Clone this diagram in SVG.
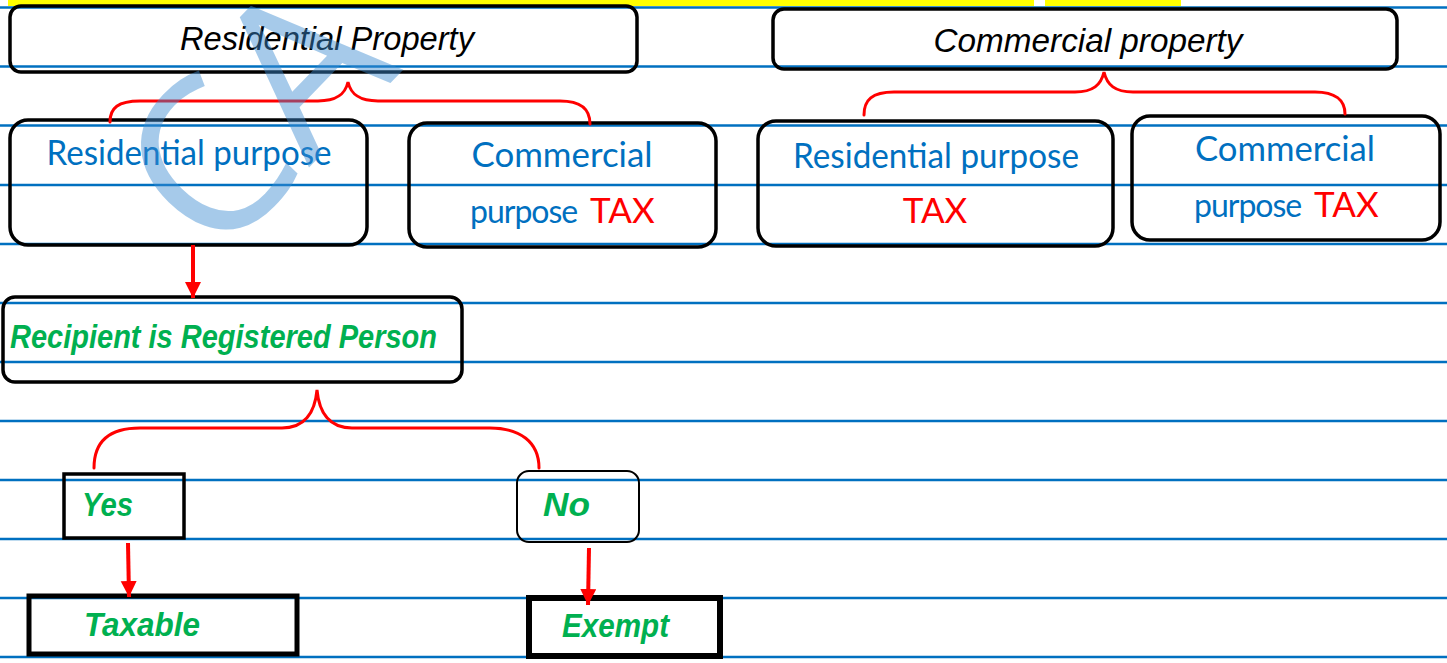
<svg xmlns="http://www.w3.org/2000/svg" width="1447" height="663" viewBox="0 0 1447 663">
  <style>
    .rule { stroke: #0070C0; stroke-width: 2.5; }
    .box { fill: none; stroke: #000; stroke-width: 3.5; }
    .brace { fill: none; stroke: #FF0000; stroke-width: 3; stroke-linecap: round; }
    .arrow { fill: none; stroke: #FF0000; stroke-width: 4; }
    .head { font-family: "Liberation Sans", "DejaVu Sans", sans-serif; font-style: italic; font-size: 33px; fill: #000; }
    .blue { font-family: "Lato", "Noto Sans", sans-serif; font-size: 35px; fill: #0070C0; }
    .small { font-size: 32px; letter-spacing: -1px; }
    .red { fill: #FF0000; }
    .green { font-family: "Liberation Sans", "DejaVu Sans", sans-serif; font-style: italic; font-weight: bold; font-size: 33px; fill: #00B050; }
    .mark { font-family: "Open Sans", "DejaVu Sans", sans-serif; font-weight: 400; font-size: 215px; fill: #3C8CD2; opacity: 0.45; }
  </style>
  <defs>
    <marker id="tip" markerUnits="userSpaceOnUse" markerWidth="18" markerHeight="18" refX="16" refY="8" orient="auto">
      <path d="M0,0 L16,8 L0,16 z" fill="#FF0000"/>
    </marker>
  </defs>

  <rect width="1447" height="663" fill="#fff"/>

  <!-- highlighted heading strip, cut at the top edge -->
  <rect x="8" y="0" width="1026" height="6" fill="#FFFF00"/>
  <rect x="1045" y="0" width="136" height="6" fill="#FFFF00"/>

  <!-- ruled lines -->
  <g id="ruling">
    <line class="rule" x1="0" y1="7.5" x2="1447" y2="7.5"/>
    <line class="rule" x1="0" y1="66.5" x2="1447" y2="66.5"/>
    <line class="rule" x1="0" y1="125.5" x2="1447" y2="125.5"/>
    <line class="rule" x1="0" y1="185" x2="1447" y2="185"/>
    <line class="rule" x1="0" y1="244" x2="1447" y2="244"/>
    <line class="rule" x1="0" y1="303" x2="1447" y2="303"/>
    <line class="rule" x1="0" y1="362" x2="1447" y2="362"/>
    <line class="rule" x1="0" y1="421" x2="1447" y2="421"/>
    <line class="rule" x1="0" y1="480" x2="1447" y2="480"/>
    <line class="rule" x1="0" y1="539" x2="1447" y2="539"/>
    <line class="rule" x1="0" y1="598" x2="1447" y2="598"/>
    <line class="rule" x1="0" y1="657" x2="1447" y2="657"/>
  </g>

  <g id="residential-property">
    <rect class="box" x="10" y="6" width="627" height="66" rx="11"/>
    <text class="head" x="327" y="50" text-anchor="middle" textLength="294" lengthAdjust="spacingAndGlyphs">Residential Property</text>
  </g>

  <g id="commercial-property">
    <rect class="box" x="773" y="9" width="624" height="60" rx="11"/>
    <text class="head" x="1088" y="52" text-anchor="middle" textLength="309" lengthAdjust="spacingAndGlyphs">Commercial property</text>
  </g>

  <g id="res-residential-purpose">
    <rect class="box" x="10" y="120" width="357" height="125" rx="18"/>
    <text class="blue" x="189" y="165" text-anchor="middle" textLength="285" lengthAdjust="spacingAndGlyphs">Residential purpose</text>
  </g>

  <g id="res-commercial-purpose">
    <rect class="box" x="409" y="123" width="307" height="124" rx="18"/>
    <text class="blue" x="562" y="167" text-anchor="middle" textLength="181" lengthAdjust="spacingAndGlyphs">Commercial</text>
    <text class="blue small" x="470" y="223">purpose</text>
    <text class="blue red" x="590" y="223">TAX</text>
  </g>

  <g id="com-residential-purpose">
    <rect class="box" x="758" y="121" width="355" height="125" rx="18"/>
    <text class="blue" x="936" y="168" text-anchor="middle" textLength="286" lengthAdjust="spacingAndGlyphs">Residential purpose</text>
    <text class="blue red" x="935" y="223" text-anchor="middle">TAX</text>
  </g>

  <g id="com-commercial-purpose">
    <rect class="box" x="1132" y="116" width="308" height="124" rx="18"/>
    <text class="blue" x="1285" y="161" text-anchor="middle" textLength="180" lengthAdjust="spacingAndGlyphs">Commercial</text>
    <text class="blue small" x="1194" y="217">purpose</text>
    <text class="blue red" x="1314" y="217">TAX</text>
  </g>

  <g id="recipient-registered">
    <rect class="box" x="3" y="297" width="459" height="85" rx="12"/>
    <text class="green" x="10" y="348" textLength="427" lengthAdjust="spacingAndGlyphs">Recipient is Registered Person</text>
  </g>

  <g id="yes">
    <rect class="box" x="64" y="474" width="120" height="64"/>
    <text class="green" x="82" y="516" textLength="51" lengthAdjust="spacingAndGlyphs">Yes</text>
  </g>

  <g id="no">
    <rect class="box" x="517" y="471" width="122" height="71" rx="12" style="stroke-width:2"/>
    <text class="green" x="543" y="516" textLength="47" lengthAdjust="spacingAndGlyphs">No</text>
  </g>

  <g id="taxable">
    <rect class="box" x="29" y="596" width="268" height="58" style="stroke-width:5"/>
    <text class="green" x="84" y="636" textLength="116" lengthAdjust="spacingAndGlyphs">Taxable</text>
  </g>

  <g id="exempt">
    <rect class="box" x="529" y="598" width="191" height="58" style="stroke-width:6"/>
    <text class="green" x="562" y="637" textLength="107" lengthAdjust="spacingAndGlyphs">Exempt</text>
  </g>

  <g id="connectors">
    <path class="brace" d="M110,122 C110,108 118,101 140,101 L318,101 C336,101 345,95 348,82 C351,95 360,101 378,101 L560,101 C580,101 590,108 590,124"/>
    <path class="brace" d="M864,115 C864,100 872,92 894,92 L1075,92 C1093,92 1101,85 1104,72 C1107,85 1115,92 1133,92 L1315,92 C1335,92 1345,100 1345,114"/>
    <path class="brace" d="M94,468 C94,442 108,428 140,428 L282,428 C305,428 315,412 317,390 C319,412 329,428 352,428 L490,428 C520,428 539,442 539,468"/>
    <line class="arrow" x1="193" y1="245" x2="193" y2="298" marker-end="url(#tip)"/>
    <line class="arrow" x1="128" y1="543" x2="129" y2="597" marker-end="url(#tip)"/>
    <line class="arrow" x1="589" y1="548" x2="588" y2="605" marker-end="url(#tip)"/>
  </g>

  <!-- faint stamp across the upper left -->
  <text class="mark" x="0" y="0" transform="translate(215,265) rotate(-46)">CA</text>
</svg>
